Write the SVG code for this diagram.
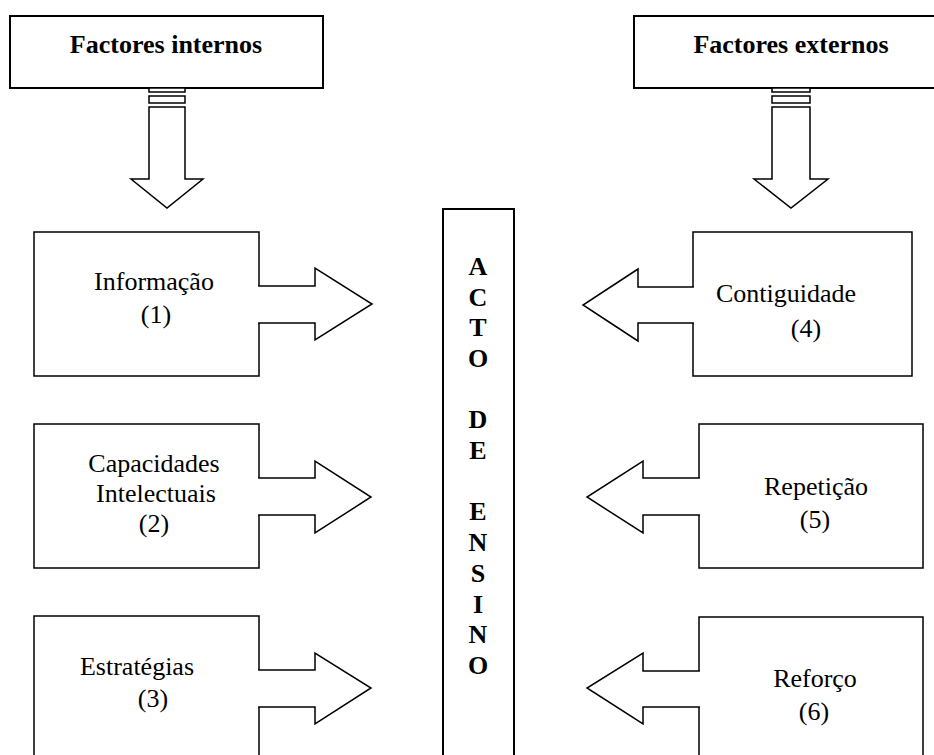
<svg xmlns="http://www.w3.org/2000/svg" width="934" height="755" viewBox="0 0 934 755">
<style>
.bg{fill:#fff}
.box{fill:#fff;stroke:#000;stroke-width:1.5}
.thick{fill:#fff;stroke:#000;stroke-width:2}
.arr{fill:#fff;stroke:#000;stroke-width:1.5;stroke-linejoin:miter}
.cover{fill:#fff;stroke:none}
.t{font-family:"Liberation Serif","Times New Roman",serif;font-size:26px;fill:#000;text-anchor:middle}
.b{font-family:"Liberation Serif","Times New Roman",serif;font-size:26px;font-weight:bold;fill:#000;text-anchor:middle}
</style>
<rect class="bg" x="0" y="0" width="934" height="755"/>

<g id="factores-internos">
<rect class="thick" x="10" y="16" width="313" height="72"/>
<text class="b" x="166" y="53">Factores internos</text>
</g>
<g id="factores-externos">
<rect class="thick" x="634" y="16" width="330" height="72"/>
<text class="b" x="791" y="53">Factores externos</text>
</g>

<g id="acto-de-ensino">
<path class="thick" d="M443,770 V209 H514 V770"/>
<text class="b" x="478" y="275">A</text>
<text class="b" x="478" y="306">C</text>
<text class="b" x="478" y="336">T</text>
<text class="b" x="478" y="367">O</text>
<text class="b" x="478" y="428">D</text>
<text class="b" x="478" y="459">E</text>
<text class="b" x="478" y="520">E</text>
<text class="b" x="478" y="551">N</text>
<text class="b" x="478" y="582">S</text>
<text class="b" x="478" y="613">I</text>
<text class="b" x="478" y="643">N</text>
<text class="b" x="478" y="674">O</text>
</g>

<g id="informacao">
<rect class="box" x="34" y="232" width="225" height="144"/>
<text class="t" x="154" y="290">Informação</text>
<text class="t" x="156" y="323">(1)</text>
</g>
<g id="capacidades">
<rect class="box" x="34" y="424" width="225" height="144"/>
<text class="t" x="154" y="472">Capacidades</text>
<text class="t" x="156" y="502">Intelectuais</text>
<text class="t" x="154" y="532">(2)</text>
</g>
<g id="estrategias">
<path class="box" d="M34,770 V616 H259 V770"/>
<text class="t" x="137" y="675">Estratégias</text>
<text class="t" x="153" y="707">(3)</text>
</g>

<g id="contiguidade">
<rect class="box" x="693" y="232" width="219" height="144"/>
<text class="t" x="786" y="302">Contiguidade</text>
<text class="t" x="806" y="337">(4)</text>
</g>
<g id="repeticao">
<rect class="box" x="699" y="424" width="224" height="144"/>
<text class="t" x="816" y="495">Repetição</text>
<text class="t" x="815" y="528">(5)</text>
</g>
<g id="reforco">
<path class="box" d="M699,770 V617 H923 V770"/>
<text class="t" x="815" y="687">Reforço</text>
<text class="t" x="814" y="720">(6)</text>
</g>

<g id="connectors">
<rect class="box" x="149" y="88" width="36" height="4"/>
<rect class="box" x="149" y="96" width="36" height="7"/>
<path class="arr" d="M149,107 H185 V179 H203 L167,208 L131,179 H149 Z"/>
<rect class="box" x="772" y="88" width="38" height="4"/>
<rect class="box" x="772" y="96" width="38" height="7"/>
<path class="arr" d="M772,107 H810 V179 H828 L791,208 L754,179 H772 Z"/>

<rect class="cover" x="257" y="287" width="4" height="35"/>
<rect class="cover" x="257" y="479" width="4" height="35"/>
<rect class="cover" x="257" y="671" width="4" height="35"/>
<rect class="cover" x="691" y="288" width="4" height="34"/>
<rect class="cover" x="697" y="479" width="4" height="35"/>
<rect class="cover" x="697" y="672" width="4" height="34"/>

<path class="arr" d="M258.2,286 H315 V268 L372,304 L315,340 V323 H258.2"/>
<path class="arr" d="M258.2,478 H315 V461 L371,497 L315,533 V515 H258.2"/>
<path class="arr" d="M258.2,670 H315 V653 L371,688 L315,724 V707 H258.2"/>

<path class="arr" d="M693.8,287 H638 V269 L583,305 L638,341 V323 H693.8"/>
<path class="arr" d="M699.8,478 H643 V461 L587,497 L643,533 V515 H699.8"/>
<path class="arr" d="M699.8,671 H643 V653 L587,688 L643,724 V707 H699.8"/>
</g>
</svg>
